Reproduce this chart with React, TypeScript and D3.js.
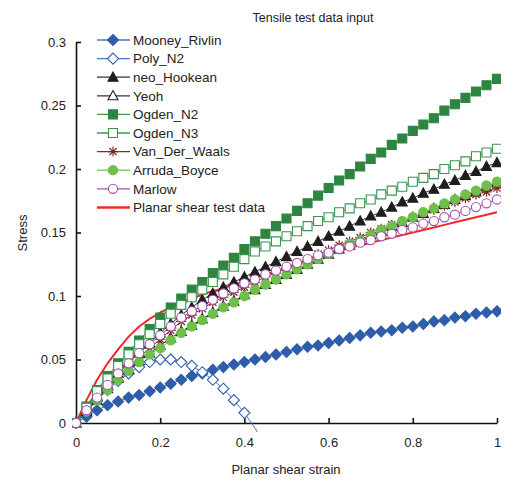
import React, { useEffect, useRef } from 'react';
import * as d3 from 'd3';

// strain values shared by most series
const strain = [0, 0.025, 0.05, 0.075, 0.1, 0.125, 0.15, 0.175, 0.2, 0.225, 0.25, 0.275, 0.3, 0.325, 0.35, 0.375, 0.4, 0.425, 0.45, 0.475, 0.5, 0.525, 0.55, 0.575, 0.6, 0.625, 0.65, 0.675, 0.7, 0.725, 0.75, 0.775, 0.8, 0.825, 0.85, 0.875, 0.9, 0.925, 0.95, 0.975, 1];

const mooneyRivlin = [0, 0.005, 0.010, 0.014, 0.017, 0.020, 0.022, 0.025, 0.028, 0.031, 0.034, 0.037, 0.039, 0.042, 0.044, 0.046, 0.048, 0.050, 0.052, 0.054, 0.056, 0.058, 0.060, 0.061, 0.063, 0.065, 0.067, 0.069, 0.071, 0.072, 0.073, 0.075, 0.076, 0.078, 0.080, 0.081, 0.083, 0.084, 0.086, 0.087, 0.088];

const polyStrain = [0, 0.025, 0.05, 0.075, 0.1, 0.125, 0.15, 0.175, 0.2, 0.225, 0.25, 0.275, 0.3, 0.325, 0.35, 0.375, 0.4, 0.425, 0.45, 0.475];
const polyN2 = [0, 0.009, 0.018, 0.026, 0.033, 0.039, 0.044, 0.048, 0.050, 0.050, 0.048, 0.045, 0.040, 0.034, 0.027, 0.018, 0.008, -0.004, -0.017, -0.031];

const neoHookean = [0, 0.010, 0.020, 0.030, 0.039, 0.048, 0.056, 0.063, 0.071, 0.078, 0.085, 0.091, 0.097, 0.102, 0.107, 0.111, 0.115, 0.119, 0.123, 0.127, 0.131, 0.135, 0.139, 0.143, 0.147, 0.151, 0.155, 0.159, 0.163, 0.166, 0.170, 0.174, 0.177, 0.181, 0.184, 0.188, 0.191, 0.195, 0.198, 0.202, 0.205];

const yeoh = [0, 0.009, 0.018, 0.027, 0.035, 0.042, 0.049, 0.055, 0.061, 0.067, 0.072, 0.077, 0.082, 0.087, 0.092, 0.096, 0.101, 0.105, 0.109, 0.113, 0.117, 0.121, 0.125, 0.129, 0.133, 0.137, 0.140, 0.144, 0.148, 0.151, 0.155, 0.158, 0.162, 0.165, 0.169, 0.172, 0.176, 0.179, 0.182, 0.186, 0.189];

const ogdenN2 = [0, 0.013, 0.026, 0.037, 0.047, 0.056, 0.065, 0.074, 0.083, 0.091, 0.098, 0.105, 0.111, 0.118, 0.124, 0.130, 0.137, 0.143, 0.149, 0.155, 0.161, 0.167, 0.173, 0.179, 0.185, 0.191, 0.196, 0.202, 0.208, 0.213, 0.219, 0.224, 0.230, 0.235, 0.240, 0.246, 0.251, 0.256, 0.261, 0.266, 0.271];

const ogdenN3 = [0, 0.012, 0.025, 0.035, 0.045, 0.054, 0.062, 0.070, 0.078, 0.086, 0.093, 0.099, 0.105, 0.111, 0.117, 0.123, 0.129, 0.135, 0.139, 0.143, 0.147, 0.151, 0.155, 0.159, 0.162, 0.166, 0.169, 0.173, 0.176, 0.180, 0.183, 0.186, 0.190, 0.193, 0.196, 0.200, 0.203, 0.206, 0.210, 0.213, 0.216];

const vanDerWaals = [0, 0.010, 0.019, 0.028, 0.037, 0.045, 0.052, 0.059, 0.066, 0.073, 0.080, 0.085, 0.090, 0.095, 0.099, 0.103, 0.107, 0.111, 0.115, 0.118, 0.122, 0.126, 0.129, 0.133, 0.136, 0.140, 0.143, 0.146, 0.150, 0.153, 0.156, 0.159, 0.162, 0.165, 0.168, 0.171, 0.174, 0.177, 0.180, 0.182, 0.185];

const arrudaBoyce = [0, 0.009, 0.018, 0.026, 0.034, 0.041, 0.048, 0.054, 0.059, 0.065, 0.071, 0.076, 0.081, 0.086, 0.091, 0.095, 0.100, 0.105, 0.109, 0.113, 0.117, 0.121, 0.125, 0.129, 0.133, 0.137, 0.141, 0.144, 0.148, 0.152, 0.155, 0.159, 0.162, 0.166, 0.169, 0.173, 0.176, 0.180, 0.183, 0.187, 0.190];

const marlow = [0, 0.010, 0.020, 0.030, 0.039, 0.047, 0.055, 0.062, 0.069, 0.076, 0.083, 0.088, 0.092, 0.097, 0.102, 0.106, 0.110, 0.113, 0.117, 0.120, 0.123, 0.126, 0.129, 0.132, 0.134, 0.137, 0.139, 0.142, 0.144, 0.147, 0.149, 0.152, 0.154, 0.157, 0.159, 0.162, 0.164, 0.167, 0.170, 0.173, 0.176];

const planarShear = [0, 0.018, 0.034, 0.047, 0.058, 0.068, 0.076, 0.082, 0.087, 0.091, 0.095, 0.098, 0.101, 0.104, 0.106, 0.109, 0.111, 0.114, 0.117, 0.119, 0.122, 0.125, 0.128, 0.130, 0.133, 0.135, 0.138, 0.140, 0.142, 0.144, 0.146, 0.148, 0.150, 0.152, 0.154, 0.156, 0.158, 0.160, 0.162, 0.164, 0.166];

const xTicks = [0, 0.2, 0.4, 0.6, 0.8, 1];
const yTicks = [0, 0.05, 0.1, 0.15, 0.2, 0.25, 0.3];

const FONT = '"Liberation Sans", Arial, sans-serif';

type Series = {
    name: string;
    xs: number[];
    ys: number[];
    line: string;
    lineWidth: number;
    marker: string | null;
    fill: string;
    stroke: string;
};

const series: Series[] = [
    { name: 'Mooney_Rivlin', xs: strain, ys: mooneyRivlin, line: '#4A76C4', lineWidth: 1, marker: 'diamond', fill: '#2E5DAA', stroke: '#2E5DAA' },
    { name: 'Poly_N2', xs: polyStrain, ys: polyN2, line: '#4A76C4', lineWidth: 1, marker: 'diamond', fill: '#ffffff', stroke: '#2E5DAA' },
    { name: 'neo_Hookean', xs: strain, ys: neoHookean, line: '#333333', lineWidth: 1, marker: 'triangle', fill: '#1E1E1E', stroke: '#1E1E1E' },
    { name: 'Yeoh', xs: strain, ys: yeoh, line: '#333333', lineWidth: 1, marker: 'triangle', fill: '#ffffff', stroke: '#1E1E1E' },
    { name: 'Ogden_N2', xs: strain, ys: ogdenN2, line: '#3A9A4E', lineWidth: 1, marker: 'square', fill: '#2E8540', stroke: '#2E8540' },
    { name: 'Ogden_N3', xs: strain, ys: ogdenN3, line: '#3A9A4E', lineWidth: 1, marker: 'square', fill: '#ffffff', stroke: '#3A9450' },
    { name: 'Van_Der_Waals', xs: strain, ys: vanDerWaals, line: '#8B2A2A', lineWidth: 1, marker: 'star', fill: 'none', stroke: '#7F1F1F' },
    { name: 'Arruda_Boyce', xs: strain, ys: arrudaBoyce, line: '#6DC04A', lineWidth: 1, marker: 'circle', fill: '#6DC04A', stroke: '#6DC04A' },
    { name: 'Marlow', xs: strain, ys: marlow, line: '#A550B0', lineWidth: 1, marker: 'circle', fill: '#ffffff', stroke: '#A550B0' },
    { name: 'Planar shear test data', xs: strain, ys: planarShear, line: '#F02828', lineWidth: 2, marker: null, fill: 'none', stroke: 'none' },
];

const markerPath = (type: string) => {
    switch (type) {
        case 'diamond': return 'M0,-5.5L5.5,0L0,5.5L-5.5,0Z';
        case 'triangle': return 'M0,-5.2L5,4L-5,4Z';
        case 'square': return 'M-4.5,-4.5H4.5V4.5H-4.5Z';
        case 'circle': return 'M4.6,0A4.6,4.6 0 1,1 -4.6,0A4.6,4.6 0 1,1 4.6,0Z';
        case 'star': return 'M-5,0H5M0,-5V5M-3.6,-3.6L3.6,3.6M-3.6,3.6L3.6,-3.6';
        default: return '';
    }
};

const W = 505;
const H = 481;
const margin = { top: 42, right: 8, bottom: 58, left: 76 };

const App = () => {
    const svgRef = useRef<SVGSVGElement>(null);

    useEffect(() => {
        const svg = d3.select(svgRef.current);
        svg.selectAll('*').remove();

        const x = d3.scaleLinear().domain([0, 1]).range([margin.left, W - margin.right]);
        const y = d3.scaleLinear().domain([0, 0.3]).range([H - margin.bottom, margin.top]);

        svg.append('defs').append('clipPath')
            .attr('id', 'plot-clip')
            .append('rect')
            .attr('x', margin.left - 4)
            .attr('y', margin.top - 6)
            .attr('width', W - margin.left - margin.right + 8)
            .attr('height', H - margin.top - margin.bottom + 15);

        // title
        svg.append('text')
            .attr('x', 313)
            .attr('y', 22)
            .attr('text-anchor', 'middle')
            .style('font-family', FONT)
            .style('font-size', '12.5px')
            .style('fill', '#222')
            .text('Tensile test data input');

        // axes
        const xAxis = svg.append('g')
            .attr('transform', `translate(0,${y(0)})`)
            .call(d3.axisBottom(x).tickValues(xTicks).tickFormat(d3.format('')).tickSizeInner(-5).tickSizeOuter(0).tickPadding(15));
        const yAxis = svg.append('g')
            .attr('transform', `translate(${x(0)},0)`)
            .call(d3.axisLeft(y).tickValues(yTicks).tickFormat(d3.format('')).tickSizeInner(-5).tickSizeOuter(0).tickPadding(10));

        [xAxis, yAxis].forEach(g => {
            g.select('.domain').attr('stroke', '#111').attr('stroke-width', 1.6);
            g.selectAll('.tick line').attr('stroke', '#111').attr('stroke-width', 1.6);
            g.selectAll('.tick text')
                .style('font-family', FONT)
                .style('font-size', '13px')
                .style('fill', '#222');
        });

        svg.append('text')
            .attr('x', 286)
            .attr('y', 474)
            .attr('text-anchor', 'middle')
            .style('font-family', FONT)
            .style('font-size', '13px')
            .style('fill', '#222')
            .text('Planar shear strain');

        svg.append('text')
            .attr('transform', `translate(27,233) rotate(-90)`)
            .attr('text-anchor', 'middle')
            .style('font-family', FONT)
            .style('font-size', '13px')
            .style('fill', '#222')
            .text('Stress');

        const plot = svg.append('g').attr('clip-path', 'url(#plot-clip)');

        const line = d3.line<[number, number]>()
            .x(d => x(d[0]))
            .y(d => y(d[1]));

        // all lines first, then markers on top
        series.forEach(s => {
            const pts = s.xs.map((v, i) => [v, s.ys[i]] as [number, number]);
            plot.append('path')
                .datum(pts)
                .attr('fill', 'none')
                .attr('stroke', s.line)
                .attr('stroke-width', s.lineWidth)
                .attr('stroke-linejoin', 'round')
                .attr('d', line);
        });

        series.forEach(s => {
            if (!s.marker) return;
            const pts = s.xs.map((v, i) => [v, s.ys[i]] as [number, number]).filter(d => d[1] >= 0);
            plot.selectAll(null)
                .data(pts)
                .enter()
                .append('path')
                .attr('d', markerPath(s.marker))
                .attr('transform', d => `translate(${x(d[0])},${y(d[1])})`)
                .attr('fill', s.fill)
                .attr('stroke', s.stroke)
                .attr('stroke-width', s.marker === 'star' ? 1.2 : 1.1);
        });

        // legend
        const legend = svg.append('g').attr('transform', 'translate(97,40)');
        series.forEach((s, i) => {
            const row = legend.append('g').attr('transform', `translate(0,${i * 18.6})`);
            row.append('line')
                .attr('x1', 0).attr('x2', 33)
                .attr('y1', 0).attr('y2', 0)
                .attr('stroke', s.line)
                .attr('stroke-width', s.marker ? 1.3 : 2.5);
            if (s.marker) {
                row.append('path')
                    .attr('d', markerPath(s.marker))
                    .attr('transform', 'translate(16,0)')
                    .attr('fill', s.fill)
                    .attr('stroke', s.stroke)
                    .attr('stroke-width', 1.1);
            }
            row.append('text')
                .attr('x', 36)
                .attr('y', 0)
                .attr('dy', '0.35em')
                .style('font-family', FONT)
                .style('font-size', '13.5px')
                .style('fill', '#222')
                .text(s.name);
        });
    }, []);

    return (
        <div style={{ position: 'absolute', left: 0, top: 0, width: W, height: H, background: '#fff' }}>
            <svg ref={svgRef} width={W} height={H}></svg>
        </div>
    );
};

export default App;
